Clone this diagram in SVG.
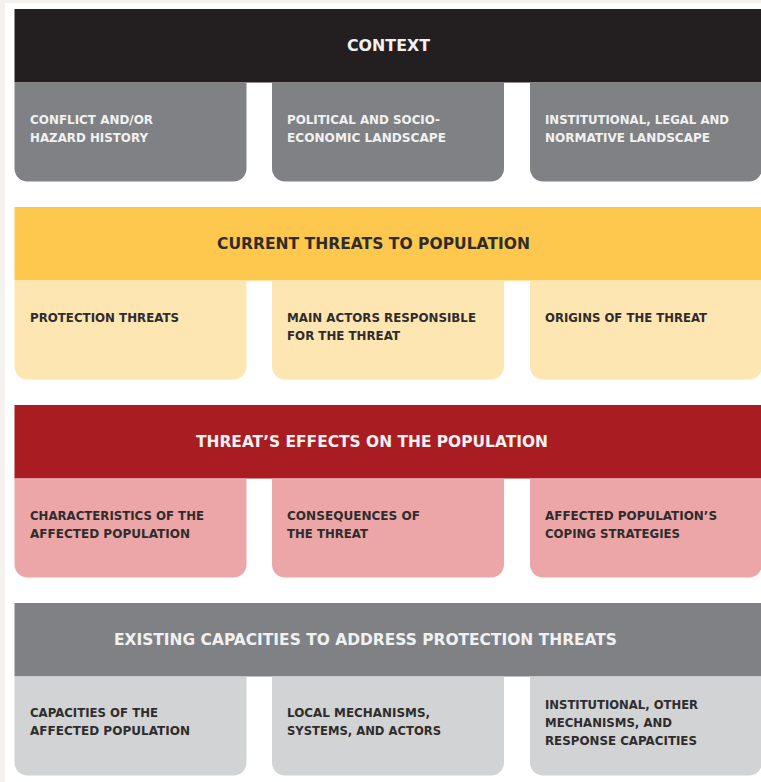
<svg xmlns="http://www.w3.org/2000/svg" width="761" height="782" viewBox="0 0 761 782">
<style>
text{font-family:"DejaVu Sans","Liberation Sans",sans-serif;font-weight:bold}
.h{font-size:15.5px;text-anchor:start}
.b{font-size:12.8px}
.lt{fill:#f1f1f2}
.dk{fill:#2f2c2d}
</style>
<defs>
<path id="box" d="M0,0 H232 V86 A13,13 0 0 1 219,99 H13 A13,13 0 0 1 0,86 Z"/>
</defs>
<rect x="0" y="0" width="761" height="782" fill="#f4f1ee"/>
<rect x="5" y="3" width="756" height="779" fill="#ffffff"/>

<g id="context">
<rect x="14.5" y="9" width="746.5" height="73.5" fill="#231f20"/>
<text class="h lt" x="347" y="51" textLength="83" lengthAdjust="spacingAndGlyphs">CONTEXT</text>
</g>
<g id="context-1">
<use href="#box" x="14.5" y="82.5" fill="#808184"/>
<text class="b lt" x="30" y="124" textLength="123" lengthAdjust="spacingAndGlyphs">CONFLICT AND/OR</text>
<text class="b lt" x="30" y="142" textLength="118" lengthAdjust="spacingAndGlyphs">HAZARD HISTORY</text>
</g>
<g id="context-2">
<use href="#box" x="272" y="82.5" fill="#808184"/>
<text class="b lt" x="287" y="124" textLength="153" lengthAdjust="spacingAndGlyphs">POLITICAL AND SOCIO-</text>
<text class="b lt" x="287" y="142" textLength="159" lengthAdjust="spacingAndGlyphs">ECONOMIC LANDSCAPE</text>
</g>
<g id="context-3">
<use href="#box" x="530" y="82.5" fill="#808184"/>
<text class="b lt" x="545" y="124" textLength="184" lengthAdjust="spacingAndGlyphs">INSTITUTIONAL, LEGAL AND</text>
<text class="b lt" x="545" y="142" textLength="165" lengthAdjust="spacingAndGlyphs">NORMATIVE LANDSCAPE</text>
</g>

<g id="threats">
<rect x="14.5" y="207" width="746.5" height="73.5" fill="#fec84e"/>
<text class="h dk" x="217" y="249" textLength="313" lengthAdjust="spacingAndGlyphs">CURRENT THREATS TO POPULATION</text>
</g>
<g id="threats-1">
<use href="#box" x="14.5" y="280.5" fill="#fee6b3"/>
<text class="b dk" x="30" y="322" textLength="149" lengthAdjust="spacingAndGlyphs">PROTECTION THREATS</text>
</g>
<g id="threats-2">
<use href="#box" x="272" y="280.5" fill="#fee6b3"/>
<text class="b dk" x="287" y="322" textLength="189" lengthAdjust="spacingAndGlyphs">MAIN ACTORS RESPONSIBLE</text>
<text class="b dk" x="287" y="340" textLength="113" lengthAdjust="spacingAndGlyphs">FOR THE THREAT</text>
</g>
<g id="threats-3">
<use href="#box" x="530" y="280.5" fill="#fee6b3"/>
<text class="b dk" x="545" y="322" textLength="162" lengthAdjust="spacingAndGlyphs">ORIGINS OF THE THREAT</text>
</g>

<g id="effects">
<rect x="14.5" y="405" width="746.5" height="73.5" fill="#a91d22"/>
<text class="h lt" x="196" y="447" textLength="352" lengthAdjust="spacingAndGlyphs">THREAT’S EFFECTS ON THE POPULATION</text>
</g>
<g id="effects-1">
<use href="#box" x="14.5" y="478.5" fill="#eca6a8"/>
<text class="b dk" x="30" y="520" textLength="174" lengthAdjust="spacingAndGlyphs">CHARACTERISTICS OF THE</text>
<text class="b dk" x="30" y="538" textLength="160" lengthAdjust="spacingAndGlyphs">AFFECTED POPULATION</text>
</g>
<g id="effects-2">
<use href="#box" x="272" y="478.5" fill="#eca6a8"/>
<text class="b dk" x="287" y="520" textLength="133" lengthAdjust="spacingAndGlyphs">CONSEQUENCES OF</text>
<text class="b dk" x="287" y="538" textLength="81" lengthAdjust="spacingAndGlyphs">THE THREAT</text>
</g>
<g id="effects-3">
<use href="#box" x="530" y="478.5" fill="#eca6a8"/>
<text class="b dk" x="545" y="520" textLength="172" lengthAdjust="spacingAndGlyphs">AFFECTED POPULATION’S</text>
<text class="b dk" x="545" y="538" textLength="135" lengthAdjust="spacingAndGlyphs">COPING STRATEGIES</text>
</g>

<g id="capacities">
<rect x="14.5" y="603" width="746.5" height="73.5" fill="#808184"/>
<text class="h lt" x="114" y="645" textLength="503" lengthAdjust="spacingAndGlyphs">EXISTING CAPACITIES TO ADDRESS PROTECTION THREATS</text>
</g>
<g id="capacities-1">
<use href="#box" x="14.5" y="676.5" fill="#d1d3d4"/>
<text class="b dk" x="30" y="717" textLength="128" lengthAdjust="spacingAndGlyphs">CAPACITIES OF THE</text>
<text class="b dk" x="30" y="735" textLength="160" lengthAdjust="spacingAndGlyphs">AFFECTED POPULATION</text>
</g>
<g id="capacities-2">
<use href="#box" x="272" y="676.5" fill="#d1d3d4"/>
<text class="b dk" x="287" y="717" textLength="143" lengthAdjust="spacingAndGlyphs">LOCAL MECHANISMS,</text>
<text class="b dk" x="287" y="735" textLength="154" lengthAdjust="spacingAndGlyphs">SYSTEMS, AND ACTORS</text>
</g>
<g id="capacities-3">
<use href="#box" x="530" y="676.5" fill="#d1d3d4"/>
<text class="b dk" x="545" y="709" textLength="153" lengthAdjust="spacingAndGlyphs">INSTITUTIONAL, OTHER</text>
<text class="b dk" x="545" y="727" textLength="127" lengthAdjust="spacingAndGlyphs">MECHANISMS, AND</text>
<text class="b dk" x="545" y="745" textLength="152" lengthAdjust="spacingAndGlyphs">RESPONSE CAPACITIES</text>
</g>
<g id="connectors"/>
</svg>
